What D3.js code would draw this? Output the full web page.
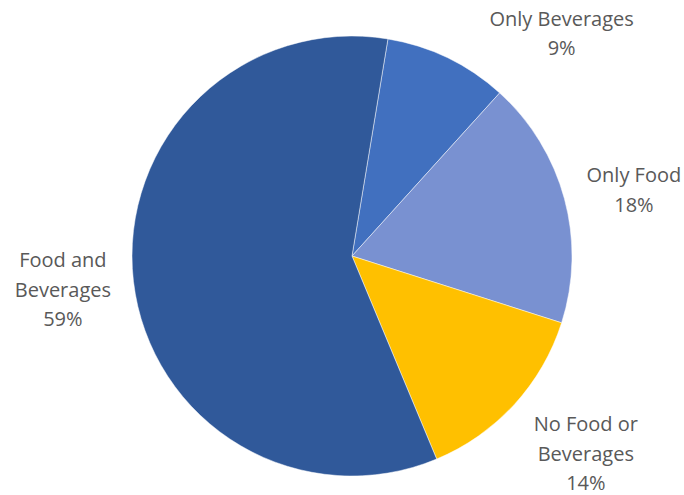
<!DOCTYPE html>
<html lang="en">
	<head>
		<meta charset="utf-8">
		<title>Pie chart</title>
		<script type="text/javascript" src="https://cdn.jsdelivr.net/npm/d3@7/dist/d3.min.js"></script>
		<style>
			body { margin: 0; background: #fff; }
			text { font-family: "Open Sans", sans-serif; font-size: 20px; fill: #595959; }
		</style>
	</head>
	<body>
		<script type="text/javascript">
			var categories = ["Only Beverages", "Only Food", "No Food or Beverages", "Food and Beverages"];
			var values = [9.1, 18.2, 13.8, 58.9];
			var labelLines = [["Only Beverages"], ["Only Food"], ["No Food or", "Beverages"], ["Food and", "Beverages"]];
			var colors = ["#4170BF", "#7991D1", "#FFC000", "#30599A"];

			//Width and height
			var w = 684;
			var h = 495;
			var cx = 352, cy = 256, r = 220;
			var startDeg = 9.4;

			var svg = d3.select("body")
						.append("svg")
						.attr("width", w)
						.attr("height", h);

			var pie = d3.pie()
				.sort(null)
				.startAngle(startDeg * Math.PI / 180)
				.endAngle((startDeg + 360) * Math.PI / 180);

			var arcs = pie(values);
			var arc = d3.arc().innerRadius(0).outerRadius(r);

			var g = svg.append("g").attr("transform", "translate(" + cx + "," + cy + ")");

			g.selectAll("path")
				.data(arcs)
				.enter()
				.append("path")
				.attr("d", arc)
				.attr("fill", function(d, i) { return colors[i]; })
				.attr("stroke", "#ffffff")
				.attr("stroke-width", 0.8)
				.attr("stroke-opacity", 0.6);

			//label placement: [angle shift from slice middle in degrees, radius factor]
			var labelPlace = [[17.5, 1.39], [1.9, 1.316], [-2.3, 1.392], [0, 1.323]];
			var total = d3.sum(values);
			var lineH = 29.5;

			var labels = g.selectAll("g.lbl")
				.data(arcs)
				.enter()
				.append("g")
				.attr("class", "lbl")
				.attr("transform", function(d, i) {
					var a = (d.startAngle + d.endAngle) / 2 + labelPlace[i][0] * Math.PI / 180;
					var rr = r * labelPlace[i][1];
					return "translate(" + (Math.sin(a) * rr) + "," + (-Math.cos(a) * rr) + ")";
				});

			labels.each(function(d, i) {
				var lines = labelLines[i].concat([Math.round(d.value / total * 100) + "%"]);
				var t = d3.select(this).append("text").attr("text-anchor", "middle");
				var y0 = -(lines.length - 1) * lineH / 2;
				lines.forEach(function(s, k) {
					t.append("tspan")
						.attr("x", 0)
						.attr("y", y0 + k * lineH)
						.attr("dy", "0.35em")
						.text(s);
				});
			});
		</script>
	</body>
</html>
